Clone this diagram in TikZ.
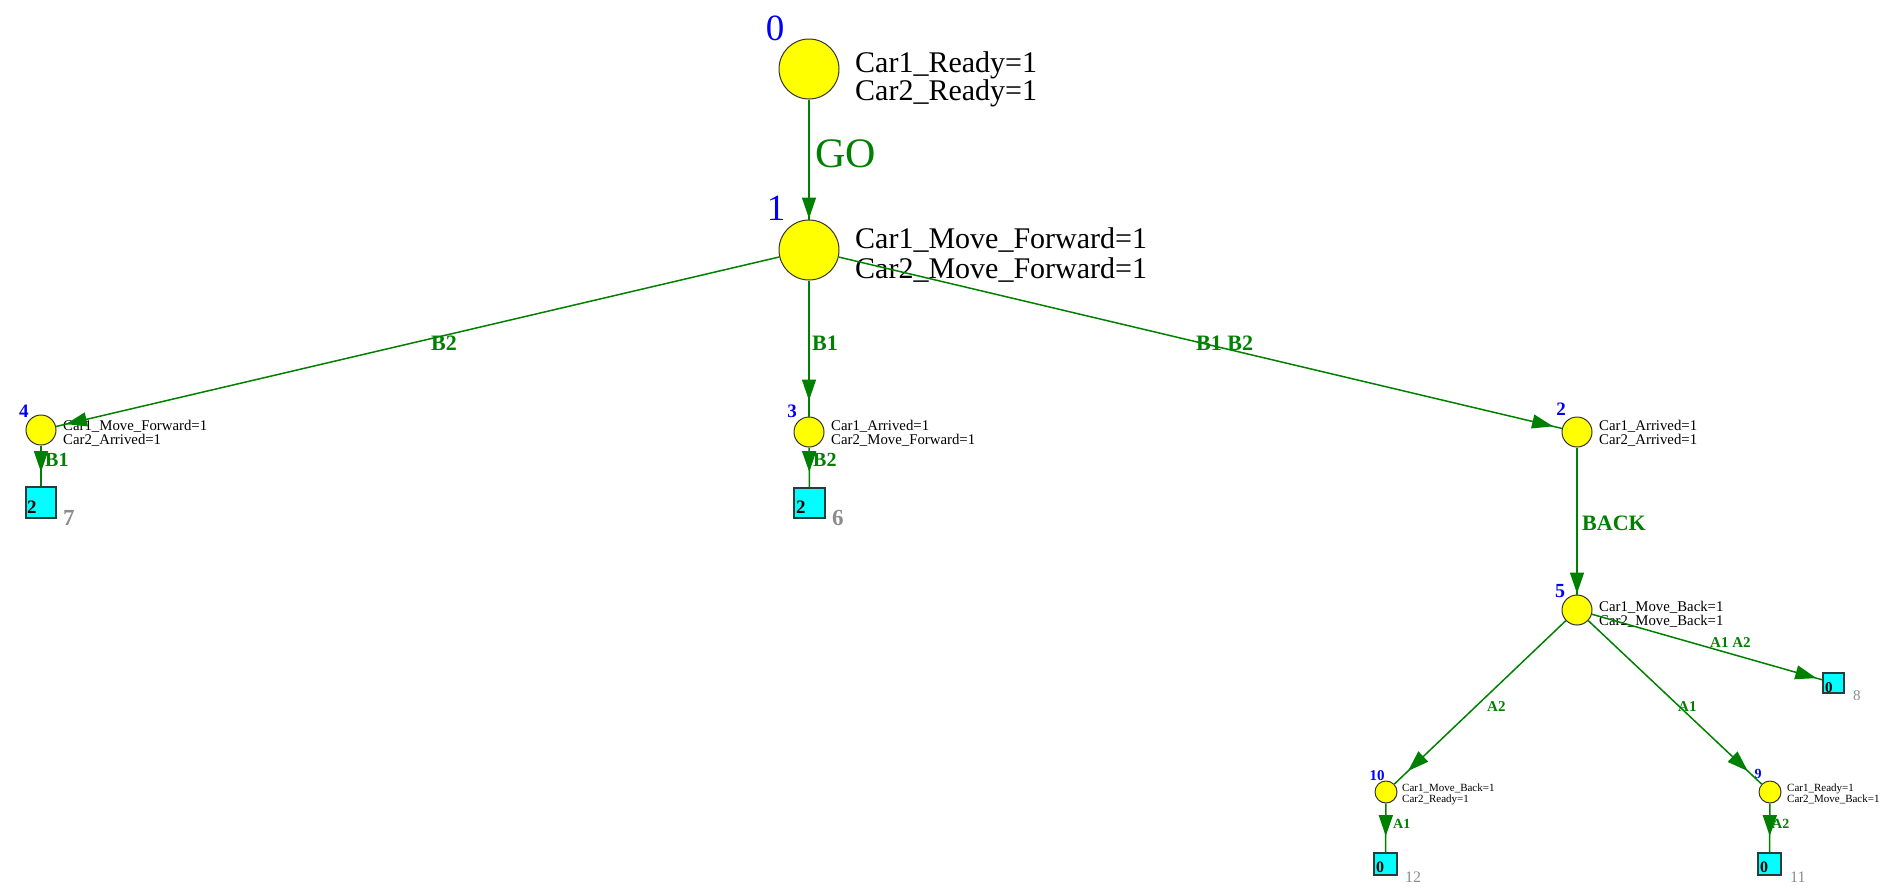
\documentclass[tikz,border=0pt]{standalone}
\usepackage{fontspec}
\setmainfont{Liberation Serif}
\usetikzlibrary{arrows.meta,decorations.markings}

\definecolor{egreen}{RGB}{0,128,0}
\definecolor{nblue}{RGB}{0,0,255}
\definecolor{ncyan}{RGB}{0,255,255}
\definecolor{nyellow}{RGB}{255,255,0}
\definecolor{ngray}{RGB}{140,140,140}
\definecolor{boxline}{RGB}{40,60,60}

\newcommand{\fs}[1]{\fontsize{#1}{#1}\selectfont}

\tikzset{
  state/.style={circle, draw=black!80, line width=1pt, fill=nyellow, inner sep=0pt},
  bigstate/.style={state, minimum size=60pt},
  midstate/.style={state, minimum size=30pt},
  smallstate/.style={state, minimum size=22pt},
  deadbox/.style={rectangle, draw=boxline, line width=1.8pt, fill=ncyan, inner sep=0pt},
  marking/.style={anchor=base west, inner sep=0pt, text=black},
  idx/.style={anchor=base, inner sep=0pt, text=nblue},
  boxnum/.style={anchor=base west, inner sep=0pt, text=black, font=\bfseries},
  succ/.style={anchor=base west, inner sep=0pt, text=ngray},
  trans/.style={anchor=base west, inner sep=0pt, text=egreen, font=\bfseries},
  edge/.style={draw=egreen, color=egreen, line width=1.5pt},
  tipat/.style={postaction={decorate},
    decoration={markings, mark=at position -#1 with {\arrow{Triangle[length=21pt,width=14pt]}}}}
}

\begin{document}
\begin{tikzpicture}[x=1pt,y=-1pt]
\useasboundingbox (0,0) rectangle (1895,895);

% ---- states ----
\node[bigstate] (n0) at (809,69) {};
\node[bigstate] (n1) at (809,250) {};
\node[midstate] (n4) at (41,430) {};
\node[midstate] (n3) at (809,432) {};
\node[midstate] (n2) at (1577,432) {};
\node[midstate] (n5) at (1577,610) {};
\node[smallstate] (n10) at (1386,792) {};
\node[smallstate] (n9) at (1770,792) {};

% ---- dead markings ----
\node[deadbox, minimum width=30pt, minimum height=31pt] (s7) at (41,502.5) {};
\node[deadbox, minimum width=31pt, minimum height=30pt] (s6) at (809.5,503) {};
\node[deadbox, minimum width=21pt, minimum height=20pt] (s8) at (1833.5,683) {};
\node[deadbox, minimum width=23pt, minimum height=22pt] (s12) at (1385.5,864) {};
\node[deadbox, minimum width=23pt, minimum height=22pt] (s11) at (1769.5,864) {};

% ---- state numbers ----
\node[idx, font=\fs{37}] (i0) at (775,40) {0};
\node[idx, font=\fs{37}] (i1) at (776,220) {1};
\node[idx, font=\fs{19}\bfseries] (i4) at (24,417) {4};
\node[idx, font=\fs{19}\bfseries] (i3) at (792,417) {3};
\node[idx, font=\fs{19}\bfseries] (i2) at (1561,415) {2};
\node[idx, font=\fs{20}\bfseries] (i5) at (1560,597) {5};
\node[idx, font=\fs{15}\bfseries] (i10) at (1377,780) {10};
\node[idx, font=\fs{14}\bfseries] (i9) at (1758,778) {9};

% ---- markings of the states ----
\node[marking, font=\fs{30}] (t0a) at (855,72) {Car1\_Ready=1};
\node[marking, font=\fs{30}] (t0b) at (855,100) {Car2\_Ready=1};
\node[marking, font=\fs{30}] (t1a) at (855,248) {Car1\_Move\_Forward=1};
\node[marking, font=\fs{30}] (t1b) at (855,278) {Car2\_Move\_Forward=1};
\node[marking, font=\fs{14.8}] (t4a) at (63,430) {Car1\_Move\_Forward=1};
\node[marking, font=\fs{14.8}] (t4b) at (63,444) {Car2\_Arrived=1};
\node[marking, font=\fs{14.8}] (t3a) at (831,430) {Car1\_Arrived=1};
\node[marking, font=\fs{14.8}] (t3b) at (831,444) {Car2\_Move\_Forward=1};
\node[marking, font=\fs{14.8}] (t2a) at (1599,430) {Car1\_Arrived=1};
\node[marking, font=\fs{14.8}] (t2b) at (1599,444) {Car2\_Arrived=1};
\node[marking, font=\fs{14.8}] (t5a) at (1599,611) {Car1\_Move\_Back=1};
\node[marking, font=\fs{14.8}] (t5b) at (1599,625) {Car2\_Move\_Back=1};
\node[marking, font=\fs{11}] (t10a) at (1402,791) {Car1\_Move\_Back=1};
\node[marking, font=\fs{11}] (t10b) at (1402,802) {Car2\_Ready=1};
\node[marking, font=\fs{11}] (t9a) at (1787,791) {Car1\_Ready=1};
\node[marking, font=\fs{11}] (t9b) at (1787,802) {Car2\_Move\_Back=1};

% ---- dead-marking contents and indices ----
\node[boxnum, font=\fs{19}\bfseries] (b7) at (27,513) {2};
\node[succ, font=\fs{23}\bfseries] (g7) at (63,525) {7};
\node[boxnum, font=\fs{19}\bfseries] (b6) at (796,513) {2};
\node[succ, font=\fs{23}\bfseries] (g6) at (832,525) {6};
\node[boxnum, font=\fs{15}\bfseries] (b8) at (1825,692) {0};
\node[succ, font=\fs{15}] (g8) at (1853,700) {8};
\node[boxnum, font=\fs{16}\bfseries] (b12) at (1376,872) {0};
\node[succ, font=\fs{16}] (g12) at (1405,882) {12};
\node[boxnum, font=\fs{16}\bfseries] (b11) at (1760,872) {0};
\node[succ, font=\fs{16}] (g11) at (1790,882) {11};

% ---- transitions ----
\draw[edge, tipat=1pt] (n0) -- (n1);
\draw[edge, tipat=10pt] (n1) -- (n4);
\draw[edge, tipat=16pt] (n1) -- (n3);
\draw[edge, tipat=9pt] (n1) -- (n2);
\draw[edge, tipat=14pt] (n4) -- (s7);
\draw[edge, tipat=15pt] (n3) -- (s6);
\draw[edge, tipat=1pt] (n2) -- (n5);
\draw[edge, tipat=6pt] (n5) -- (s8);
\draw[edge, tipat=19pt] (n5) -- (n10);
\draw[edge, tipat=19pt] (n5) -- (n9);
\draw[edge, tipat=16pt] (n10) -- (s12);
\draw[edge, tipat=16pt] (n9) -- (s11);

% ---- transition labels ----
\node[anchor=base west, inner sep=0pt, text=egreen, font=\fs{42}] (lGO) at (815,167) {GO};
\node[trans, font=\fs{22}\bfseries] (lB2a) at (431,350) {B2};
\node[trans, font=\fs{22}\bfseries] (lB1a) at (812,350) {B1};
\node[trans, font=\fs{22}\bfseries] (lB12) at (1196,350) {B1 B2};
\node[trans, font=\fs{20}\bfseries] (lB1b) at (45,466) {B1};
\node[trans, font=\fs{20}\bfseries] (lB2b) at (813,466) {B2};
\node[trans, font=\fs{22}\bfseries] (lBACK) at (1582,530) {BACK};
\node[trans, font=\fs{15}\bfseries] (lA12) at (1710,647) {A1 A2};
\node[trans, font=\fs{15}\bfseries] (lA2a) at (1487,711) {A2};
\node[trans, font=\fs{15}\bfseries] (lA1a) at (1678,711) {A1};
\node[trans, font=\fs{14}\bfseries] (lA1b) at (1393,828) {A1};
\node[trans, font=\fs{14}\bfseries] (lA2b) at (1772,828) {A2};
\end{tikzpicture}
\end{document}
